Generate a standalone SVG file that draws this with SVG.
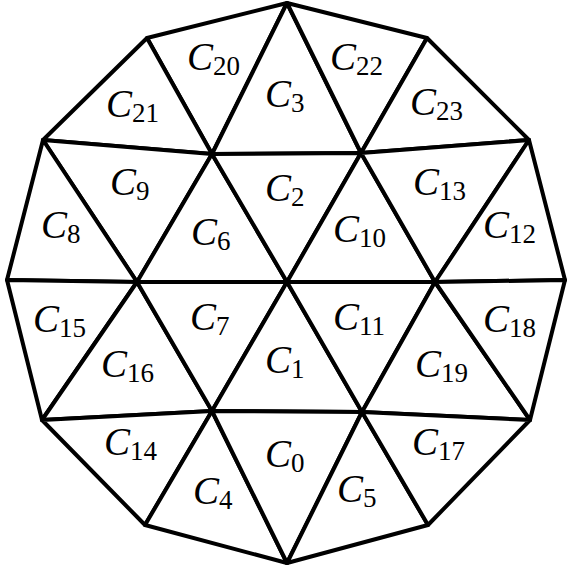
<svg xmlns="http://www.w3.org/2000/svg" width="567" height="570" viewBox="0 0 567 570">
<style>
.c{fill:#fff;stroke:#000;stroke-width:4;stroke-linejoin:round}
text{font-family:"Liberation Serif","DejaVu Serif",serif;font-size:39px;font-style:italic;fill:#000}
.s{font-size:27px;font-style:normal}
</style>
<rect width="567" height="570" fill="#fff"/>
<g id="cells">
<g id="C20"><polygon class="c" points="147,38 287,3 212,154"/><text x="187" y="70">C<tspan class="s" dy="5">20</tspan></text></g>
<g id="C3"><polygon class="c" points="287,3 212,154 361,153"/><text x="265" y="107">C<tspan class="s" dy="5">3</tspan></text></g>
<g id="C22"><polygon class="c" points="287,3 361,153 427,38"/><text x="330" y="70">C<tspan class="s" dy="5">22</tspan></text></g>
<g id="C21"><polygon class="c" points="147,38 43,140 212,154"/><text x="106" y="117">C<tspan class="s" dy="5">21</tspan></text></g>
<g id="C23"><polygon class="c" points="427,38 361,153 529,140"/><text x="410" y="115">C<tspan class="s" dy="5">23</tspan></text></g>
<g id="C9"><polygon class="c" points="43,140 212,154 137,282"/><text x="110" y="195">C<tspan class="s" dy="5">9</tspan></text></g>
<g id="C6"><polygon class="c" points="212,154 137,282 287,282"/><text x="191" y="245">C<tspan class="s" dy="5">6</tspan></text></g>
<g id="C2"><polygon class="c" points="212,154 361,153 287,282"/><text x="265" y="201">C<tspan class="s" dy="5">2</tspan></text></g>
<g id="C10"><polygon class="c" points="361,153 287,282 435,282"/><text x="333" y="242">C<tspan class="s" dy="5">10</tspan></text></g>
<g id="C13"><polygon class="c" points="361,153 529,140 435,282"/><text x="413" y="195">C<tspan class="s" dy="5">13</tspan></text></g>
<g id="C8"><polygon class="c" points="43,140 7,280 137,282"/><text x="41" y="238">C<tspan class="s" dy="5">8</tspan></text></g>
<g id="C12"><polygon class="c" points="529,140 565,280 435,282"/><text x="483" y="238">C<tspan class="s" dy="5">12</tspan></text></g>
<g id="C15"><polygon class="c" points="7,280 137,282 42,420"/><text x="33" y="332">C<tspan class="s" dy="5">15</tspan></text></g>
<g id="C16"><polygon class="c" points="137,282 42,420 212,411"/><text x="101" y="377">C<tspan class="s" dy="5">16</tspan></text></g>
<g id="C7"><polygon class="c" points="137,282 287,282 212,411"/><text x="190" y="330">C<tspan class="s" dy="5">7</tspan></text></g>
<g id="C1"><polygon class="c" points="287,282 212,411 362,412"/><text x="265" y="373">C<tspan class="s" dy="5">1</tspan></text></g>
<g id="C11"><polygon class="c" points="287,282 435,282 362,412"/><text x="333" y="330">C<tspan class="s" dy="5">11</tspan></text></g>
<g id="C19"><polygon class="c" points="435,282 362,412 530,420"/><text x="415" y="377">C<tspan class="s" dy="5">19</tspan></text></g>
<g id="C18"><polygon class="c" points="435,282 565,280 530,420"/><text x="483" y="332">C<tspan class="s" dy="5">18</tspan></text></g>
<g id="C14"><polygon class="c" points="42,420 212,411 145,525"/><text x="104" y="455">C<tspan class="s" dy="5">14</tspan></text></g>
<g id="C4"><polygon class="c" points="145,525 212,411 287,563"/><text x="193" y="504">C<tspan class="s" dy="5">4</tspan></text></g>
<g id="C0"><polygon class="c" points="212,411 362,412 287,563"/><text x="265" y="467">C<tspan class="s" dy="5">0</tspan></text></g>
<g id="C5"><polygon class="c" points="362,412 287,563 428,525"/><text x="337" y="502">C<tspan class="s" dy="5">5</tspan></text></g>
<g id="C17"><polygon class="c" points="362,412 530,420 428,525"/><text x="412" y="455">C<tspan class="s" dy="5">17</tspan></text></g>
</g>
</svg>
